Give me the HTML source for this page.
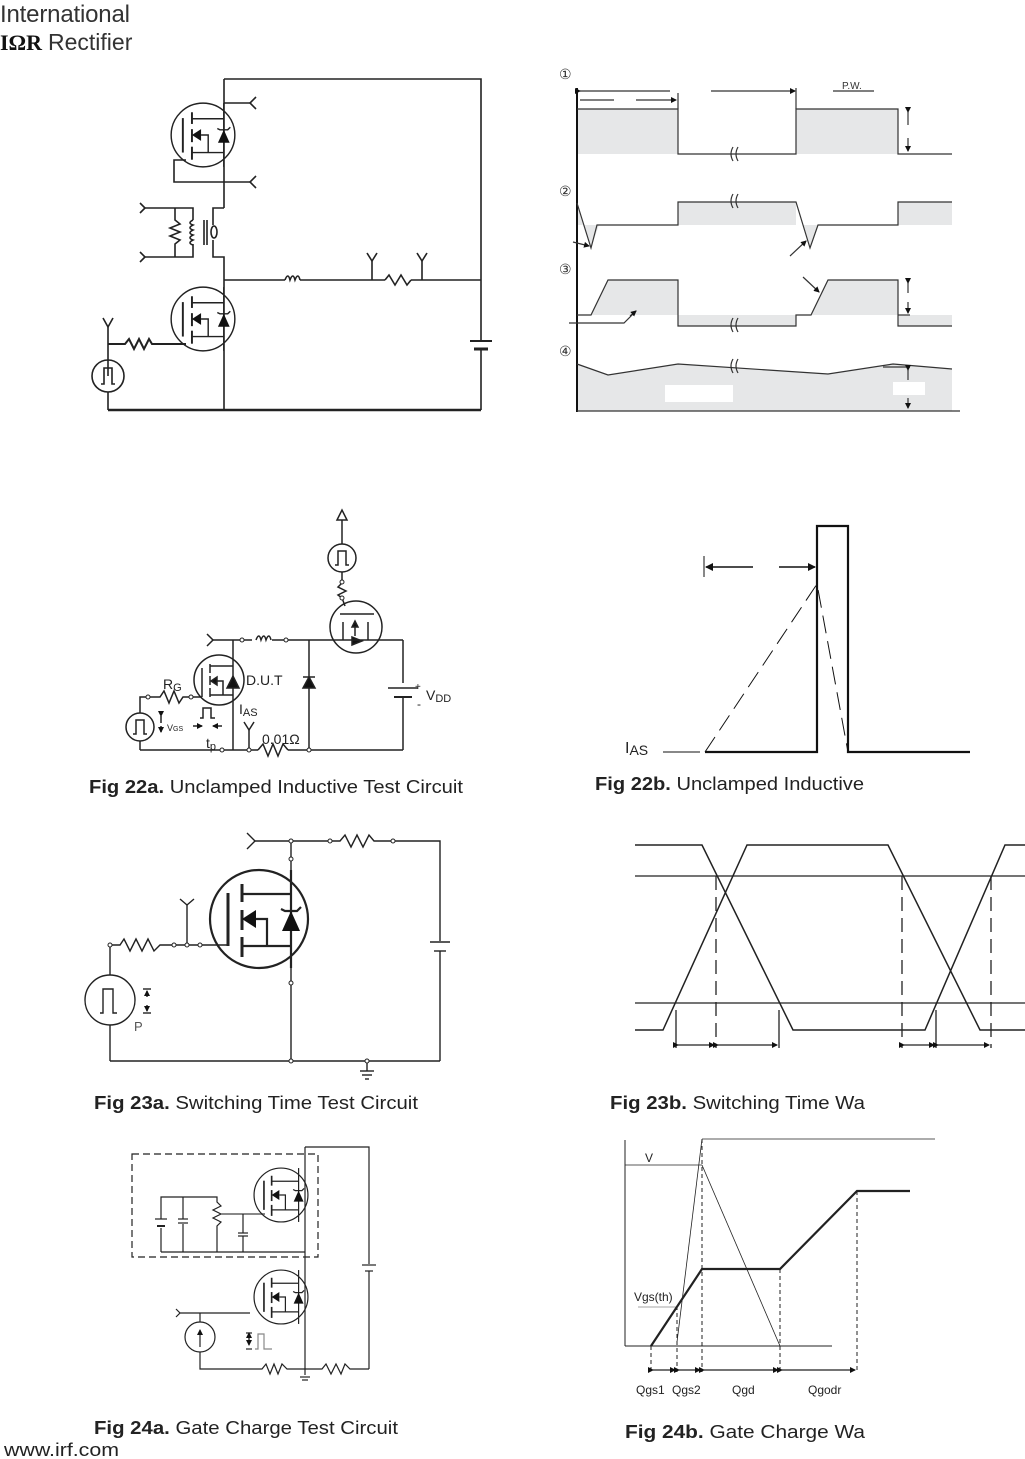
<!DOCTYPE html>
<html><head><meta charset="utf-8"><style>
html,body{margin:0;padding:0;background:#fff;}
svg{display:block;font-family:"Liberation Sans",sans-serif;}
</style></head><body>
<svg width="1025" height="1459" viewBox="0 0 1025 1459" xmlns="http://www.w3.org/2000/svg">
<defs>
<g id="mos">
 <circle cx="0" cy="0" r="49" fill="none" stroke="#222" stroke-width="2.2"/>
 <line x1="-31" y1="-26" x2="-31" y2="27" stroke="#222" stroke-width="3"/>
 <g stroke="#222" stroke-width="3">
  <line x1="-17" y1="-35" x2="-17" y2="-17"/><line x1="-17" y1="-9" x2="-17" y2="11"/><line x1="-17" y1="18" x2="-17" y2="38"/>
 </g>
 <g stroke="#222" stroke-width="2.2" fill="none">
  <line x1="-17" y1="-25" x2="32" y2="-25"/><line x1="-17" y1="27" x2="32" y2="27"/>
  <polyline points="-3,0 8,0 8,27"/>
  <line x1="32" y1="-49" x2="32" y2="49"/>
  <polyline points="22,-10 26,-8 38,-8 42,-12"/>
 </g>
 <polygon points="-17,0 -3,-9 -3,9" fill="#111"/>
 <polygon points="23,12 41,12 32,-8" fill="#111"/>
</g>
<marker id="ah" markerWidth="8" markerHeight="8" refX="7" refY="4" orient="auto" markerUnits="userSpaceOnUse"><polygon points="0,0 8,4 0,8" fill="#111"/></marker>
<marker id="as" markerWidth="6" markerHeight="6" refX="5" refY="3" orient="auto" markerUnits="userSpaceOnUse"><polygon points="0,0 6,3 0,6" fill="#111"/></marker>
</defs>

<!-- logo -->
<text x="0" y="22" font-size="24" fill="#333" font-weight="300" textLength="130">International</text>
<text x="0" y="50" font-size="22" fill="#111" font-weight="bold" font-family="Liberation Serif">IΩR</text>
<text x="48" y="50" font-size="23" fill="#333">Rectifier</text>

<g stroke="#222" stroke-width="1.6" fill="none">
<!-- Fig 21a -->
<polyline points="224,79 481,79 481,340"/><line x1="481" y1="350" x2="481" y2="410"/>
<line x1="470" y1="341" x2="492" y2="341" stroke-width="2"/><line x1="474" y1="349" x2="488" y2="349" stroke-width="3"/>
<line x1="108" y1="410" x2="481" y2="410" stroke-width="2.5"/>
<line x1="224" y1="79" x2="224" y2="208"/>
<polyline points="224,208 213,208 213,225"/><polyline points="213,240 213,257 224,257 224,410"/>
<ellipse cx="214" cy="232" rx="3" ry="6"/>
<line x1="204" y1="220" x2="204" y2="245"/><line x1="207" y1="220" x2="207" y2="245"/>
<polyline points="163,208 193,208 193,220"/><polyline points="193,244 193,257 163,257"/>
<path d="M193,220 q-6,3 0,5 q-6,3 0,5 q-6,3 0,5 q-6,3 0,5 q-6,3 0,5"/>
<polyline points="175,208 175,220 180,224 170,228 180,232 170,236 180,240 175,244 175,257"/>
<polyline points="140,203 145,208 140,213"/><line x1="145" y1="208" x2="163" y2="208"/>
<polyline points="140,252 145,257 140,262"/><line x1="145" y1="257" x2="163" y2="257"/>
<line x1="224" y1="103" x2="250" y2="103"/><polyline points="256,97 250,103 256,109"/>
<line x1="224" y1="182" x2="250" y2="182"/><polyline points="256,176 250,182 256,188"/>
<polyline points="186,160 174,160 174,182 224,182"/>
<line x1="224" y1="280" x2="285" y2="280"/>
<path d="M285,280 q3,-8 5,0 q3,-8 5,0 q3,-8 5,0"/>
<line x1="300" y1="280" x2="385" y2="280"/>
<polyline points="385,280 389,275 395,285 401,275 407,285 411,280"/>
<line x1="411" y1="280" x2="481" y2="280"/>
<line x1="372" y1="261" x2="372" y2="280"/><polyline points="367,253 372,261 377,253"/>
<line x1="422" y1="261" x2="422" y2="280"/><polyline points="417,253 422,261 427,253"/>
<polyline points="108,327 108,376"/><polyline points="103,318 108,327 113,318"/>
<polyline points="108,344 125,344 129,339 134,349 139,339 144,349 149,339 152,344 186,344" stroke-width="2"/>
<circle cx="108" cy="376" r="16"/><polyline points="101,384 104,384 104,368 112,368 112,384 115,384"/>
<line x1="108" y1="392" x2="108" y2="410"/>
</g>
<use href="#mos" transform="translate(203,135) scale(0.65)"/>
<use href="#mos" transform="translate(203,319) scale(0.65)"/>

<!-- Fig 21b -->
<g fill="#e6e7e8" stroke="none">
<rect x="577" y="109" width="101" height="45"/><rect x="796" y="109" width="102" height="45"/>
<polygon points="577,202 583,225 577,225"/><polygon points="583,225 599,225 591,248"/>
<rect x="678" y="202" width="118" height="23"/><polygon points="796,202 803,225 818,225 810,248"/><rect x="898" y="202" width="54" height="23"/>
<polygon points="591,315 608,280 678,280 678,315"/><polygon points="811,315 828,280 898,280 898,315"/>
<rect x="678" y="315" width="118" height="11"/><rect x="898" y="315" width="54" height="11"/>
<polygon points="577,364 608,375 678,364 828,374 893,364 952,369 952,411 577,411"/>
</g>
<rect x="665" y="385" width="68" height="17" fill="#fff"/><rect x="893" y="382" width="32" height="13" fill="#fff"/>
<g stroke="#333" stroke-width="1.2" fill="none">
<line x1="577" y1="88" x2="577" y2="412" stroke="#111" stroke-width="2"/>
<line x1="577" y1="411" x2="960" y2="411"/>
<polyline points="577,109 678,109 678,154 796,154 796,109 898,109 898,154 952,154"/>
<line x1="580" y1="91" x2="670" y2="91" marker-start="url(#as)"/>
<line x1="580" y1="100" x2="614" y2="100"/><line x1="636" y1="100" x2="676" y2="100" marker-end="url(#as)"/>
<line x1="678" y1="93" x2="678" y2="109"/>
<line x1="711" y1="91" x2="795" y2="91" marker-end="url(#as)"/><line x1="796" y1="88" x2="796" y2="109"/>
<line x1="833" y1="91" x2="874" y2="91"/>
<line x1="908" y1="112" x2="908" y2="125" marker-start="url(#as)"/><line x1="908" y1="138" x2="908" y2="151" marker-end="url(#as)"/>
<polyline points="577,203 591,248 597,225 678,225 678,202 796,202 810,248 818,225 898,225 898,202 952,202"/>
<polyline points="577,315 591,315 608,280 678,280 678,326 796,326 796,315 811,315 828,280 898,280 898,326 952,326"/>
<line x1="898" y1="315" x2="910" y2="315"/>
<line x1="908" y1="283" x2="908" y2="293" marker-start="url(#as)"/><line x1="908" y1="302" x2="908" y2="313" marker-end="url(#as)"/>
<polyline points="577,364 608,375 678,364 828,374 893,364 952,369"/><line x1="883" y1="367" x2="910" y2="367"/>
<line x1="908" y1="370" x2="908" y2="380" marker-start="url(#as)"/><line x1="908" y1="398" x2="908" y2="408" marker-end="url(#as)"/>
<line x1="573" y1="242" x2="589" y2="246" marker-end="url(#as)"/>
<line x1="790" y1="256" x2="806" y2="241" marker-end="url(#as)"/>
<line x1="803" y1="277" x2="819" y2="292" marker-end="url(#as)"/>
<polyline points="569,323 624,323 636,311" /><line x1="630" y1="316" x2="636" y2="311" marker-end="url(#as)"/>
<path d="M733,147 q-4,7 0,14 M738,147 q-4,7 0,14 M733,194 q-4,7 0,14 M738,194 q-4,7 0,14 M733,318 q-4,7 0,14 M738,318 q-4,7 0,14 M733,359 q-4,7 0,14 M738,359 q-4,7 0,14"/>
</g>
<g font-size="14" fill="#333"><text x="559" y="79">①</text><text x="559" y="196">②</text><text x="559" y="274">③</text><text x="559" y="356">④</text></g>
<text x="842" y="89" font-size="10" fill="#333">P.W.</text>

<!-- Fig 22a -->
<g stroke="#222" stroke-width="1.5" fill="none">
<polygon points="337,520 342,510 347,520"/><line x1="342" y1="520" x2="342" y2="544"/>
<circle cx="342" cy="558" r="14"/><polyline points="335,565 338,565 338,551 346,551 346,565 349,565"/>
<line x1="342" y1="572" x2="342" y2="582"/><polyline points="342,583 338,587 346,591 338,595 342,598"/>
<line x1="342" y1="598" x2="345" y2="606"/>
<circle cx="356" cy="627" r="26"/>
<line x1="340" y1="614" x2="374" y2="614"/><line x1="343" y1="622" x2="343" y2="640"/><line x1="368" y1="622" x2="368" y2="640"/>
<line x1="355" y1="624" x2="355" y2="636"/><polygon points="352,627 358,627 355,621" fill="#111"/>
<polygon points="352,637 352,645 362,641" fill="#111"/>
<line x1="233" y1="640" x2="252" y2="640"/><polyline points="207,634 213,640 207,646"/><line x1="213" y1="640" x2="233" y2="640"/>
<path d="M256,640 q3,-8 5,0 q3,-8 5,0 q3,-8 5,0"/>
<line x1="272" y1="640" x2="403" y2="640"/><line x1="403" y1="640" x2="403" y2="683"/><line x1="403" y1="697" x2="403" y2="750"/>
<line x1="388" y1="688" x2="418" y2="688"/><line x1="394" y1="697" x2="412" y2="697" stroke-width="2"/>
<line x1="309" y1="640" x2="309" y2="750"/><polygon points="303,688 315,688 309,677" fill="#111"/><line x1="303" y1="677" x2="315" y2="677"/>
<line x1="233" y1="640" x2="233" y2="750"/>
<line x1="140" y1="750" x2="258" y2="750"/><polyline points="258,750 263,744 268,756 273,744 278,756 283,744 288,750"/><line x1="288" y1="750" x2="403" y2="750"/>
<line x1="249" y1="730" x2="249" y2="750"/><polyline points="244,722 249,730 254,722"/>
<circle cx="219" cy="680" r="25"/>
<line x1="202" y1="668" x2="202" y2="697"/><line x1="210" y1="664" x2="210" y2="698" stroke-dasharray="9,3"/>
<polyline points="210,666 233,666"/><polyline points="210,695 233,695"/><polyline points="214,681 223,681 223,695"/>
<polygon points="211,681 217,677 217,685" fill="#111"/><polygon points="227,688 239,688 233,676" fill="#111"/>
<polyline points="140,713 140,697 160,697 164,691 169,703 174,691 179,703 183,697 202,697"/>
<circle cx="140" cy="727" r="14"/><polyline points="133,734 136,734 136,720 144,720 144,734 147,734"/>
<line x1="140" y1="741" x2="140" y2="750"/>
<line x1="161" y1="716" x2="161" y2="723" marker-start="url(#as)"/><line x1="161" y1="726" x2="161" y2="732" marker-end="url(#as)"/>
<polyline points="200,718 203,718 203,708 211,708 211,718 215,718"/>
<line x1="193" y1="726" x2="202" y2="726" marker-end="url(#as)"/><line x1="222" y1="726" x2="213" y2="726" marker-end="url(#as)"/>
</g>
<g fill="#fff" stroke="#222" stroke-width="1"><circle cx="148" cy="697" r="2"/><circle cx="191" cy="697" r="2"/><circle cx="242" cy="640" r="2"/><circle cx="286" cy="640" r="2"/><circle cx="342" cy="582" r="2"/><circle cx="342" cy="598" r="2"/><circle cx="222" cy="750" r="2"/><circle cx="249" cy="750" r="2"/><circle cx="309" cy="750" r="2"/></g>
<g fill="#222" font-size="14"><text x="163" y="689">R<tspan font-size="11" dy="2">G</tspan></text><text x="246" y="685">D.U.T</text>
<text x="426" y="700">V<tspan font-size="11" dy="2">DD</tspan></text><text x="415" y="690" font-size="10">+</text><text x="417" y="708" font-size="12">-</text>
<text x="239" y="714">I<tspan font-size="11" dy="2">AS</tspan></text><text x="262" y="744">0.01Ω</text>
<text x="167" y="731" font-size="9">V<tspan font-size="7">GS</tspan></text><text x="206" y="748">t<tspan font-size="11" dy="2">p</tspan></text></g>

<!-- Fig 22b -->
<g stroke="#111" fill="none">
<line x1="663" y1="752" x2="700" y2="752" stroke-width="1"/>
<polyline points="705,752 817,752 817,526 848,526 848,752 970,752" stroke-width="2.2"/>
<polyline points="705,752 817,584 848,752" stroke-width="1" stroke-dasharray="18,8"/>
<line x1="704" y1="556" x2="704" y2="577" stroke-width="1"/>
<line x1="753" y1="567" x2="706" y2="567" stroke-width="1.5" marker-end="url(#ah)"/>
<line x1="779" y1="567" x2="815" y2="567" stroke-width="1.5" marker-end="url(#ah)"/>
</g>
<text x="625" y="753" font-size="16" fill="#222">I<tspan font-size="14" dy="2">AS</tspan></text>

<!-- Fig 23a -->
<g stroke="#222" stroke-width="1.4" fill="none">
<polyline points="247,833 255,841 247,849"/><line x1="255" y1="841" x2="330" y2="841"/>
<polyline points="330,841 340,841 345,835 351,847 357,835 363,847 369,835 374,841 393,841 440,841 440,941"/><line x1="440" y1="951" x2="440" y2="1061"/>
<line x1="430" y1="942" x2="450" y2="942"/><line x1="434" y1="951" x2="446" y2="951"/>
<line x1="291" y1="841" x2="291" y2="1061"/>
<line x1="110" y1="1061" x2="440" y2="1061"/><line x1="367" y1="1061" x2="367" y2="1071"/>
<line x1="360" y1="1071" x2="374" y2="1071"/><line x1="362" y1="1075" x2="372" y2="1075"/><line x1="365" y1="1079" x2="369" y2="1079"/>
<polyline points="110,975 110,945 120,945 124,939 130,951 136,939 142,951 148,939 154,951 160,945 228,945"/>
<line x1="187" y1="905" x2="187" y2="945"/><polyline points="180,899 187,905 194,899"/>
<circle cx="110" cy="1000" r="25"/><polyline points="100,1013 103,1013 103,989 113,989 113,1013 117,1013"/>
<line x1="110" y1="1025" x2="110" y2="1061"/>
<line x1="143" y1="989" x2="151" y2="989"/><line x1="143" y1="1013" x2="151" y2="1013"/>
<line x1="147" y1="997" x2="147" y2="991" marker-end="url(#as)"/><line x1="147" y1="1005" x2="147" y2="1011" marker-end="url(#as)"/>
</g>
<use href="#mos" transform="translate(259,919)"/>
<g fill="#fff" stroke="#222" stroke-width="1"><circle cx="110" cy="945" r="2"/><circle cx="174" cy="945" r="2"/><circle cx="187" cy="945" r="2"/><circle cx="200" cy="945" r="2"/><circle cx="291" cy="841" r="2"/><circle cx="291" cy="859" r="2"/><circle cx="330" cy="841" r="2"/><circle cx="393" cy="841" r="2"/><circle cx="291" cy="983" r="2"/><circle cx="291" cy="1061" r="2"/><circle cx="367" cy="1061" r="2"/></g>
<text x="134" y="1031" font-size="13" fill="#555">P</text>

<!-- Fig 23b -->
<g stroke="#222" stroke-width="1.3" fill="none">
<line x1="635" y1="876" x2="1025" y2="876"/><line x1="635" y1="1003" x2="1025" y2="1003"/>
<polyline points="635,845 702,845 793,1030 925,1030 1005,845 1025,845" stroke-width="1.5"/>
<polyline points="635,1030 663,1030 747,845 888,845 980,1030 1025,1030" stroke-width="1.5"/>
<g stroke-dasharray="14,7"><line x1="716" y1="876" x2="716" y2="1048"/><line x1="902" y1="876" x2="902" y2="1048"/><line x1="991" y1="876" x2="991" y2="1048"/></g>
<line x1="676" y1="1010" x2="676" y2="1048"/><line x1="779" y1="1010" x2="779" y2="1048"/><line x1="936" y1="1010" x2="936" y2="1048"/>
<line x1="678" y1="1045" x2="714" y2="1045" marker-start="url(#as)" marker-end="url(#as)"/>
<line x1="718" y1="1045" x2="777" y2="1045" marker-start="url(#as)" marker-end="url(#as)"/>
<line x1="904" y1="1045" x2="934" y2="1045" marker-start="url(#as)" marker-end="url(#as)"/>
<line x1="938" y1="1045" x2="989" y2="1045" marker-start="url(#as)" marker-end="url(#as)"/>
</g>

<!-- Fig 24a -->
<g stroke="#222" stroke-width="1.2" fill="none">
<rect x="132" y="1154" width="186" height="103" stroke-dasharray="7,4"/>
<polyline points="305,1147 369,1147 369,1264"/><line x1="369" y1="1271" x2="369" y2="1369"/>
<line x1="362" y1="1265" x2="376" y2="1265"/><line x1="365" y1="1271" x2="373" y2="1271"/>
<line x1="305" y1="1147" x2="305" y2="1375"/>
<polyline points="161,1219 161,1197 217,1197 217,1199"/><line x1="161" y1="1228" x2="161" y2="1252"/>
<line x1="155" y1="1219" x2="167" y2="1219"/><line x1="157" y1="1226" x2="165" y2="1226" stroke-width="2"/>
<polyline points="183,1197 183,1219"/><line x1="183" y1="1224" x2="183" y2="1252"/><line x1="178" y1="1219" x2="188" y2="1219"/><line x1="178" y1="1223" x2="188" y2="1223"/>
<polyline points="217,1199 217,1202 221,1206 213,1210 221,1214 213,1218 221,1222 217,1226 217,1252"/>
<line x1="221" y1="1214" x2="265" y2="1214" stroke="#888" stroke-width="2"/>
<line x1="243" y1="1214" x2="243" y2="1233"/><line x1="243" y1="1236" x2="243" y2="1252"/><line x1="238" y1="1233" x2="248" y2="1233"/><line x1="238" y1="1236" x2="248" y2="1236"/>
<line x1="161" y1="1252" x2="305" y2="1252"/>
<polyline points="176,1309 180,1313 176,1317"/><line x1="180" y1="1313" x2="250" y2="1313"/>
<line x1="200" y1="1313" x2="200" y2="1322"/>
<circle cx="200" cy="1337" r="15"/><line x1="200" y1="1347" x2="200" y2="1330" marker-end="url(#as)"/>
<polyline points="200,1352 200,1369 262,1369 266,1364 270,1374 274,1364 278,1374 282,1364 287,1369 322,1369 326,1364 331,1374 336,1364 341,1374 345,1364 350,1369 369,1369"/>
<line x1="300" y1="1377" x2="310" y2="1377"/><line x1="302" y1="1380" x2="308" y2="1380"/>
<line x1="249" y1="1335" x2="249" y2="1345" marker-end="url(#as)"/><line x1="249" y1="1340" x2="249" y2="1333" marker-end="url(#as)"/>
<line x1="246" y1="1333" x2="252" y2="1333"/><line x1="246" y1="1349" x2="252" y2="1349"/>
<polyline points="255,1349 258,1349 258,1334 264,1334 264,1349 272,1349" stroke="#888"/>
</g>
<use href="#mos" transform="translate(281,1195) scale(0.55)"/>
<use href="#mos" transform="translate(281,1297) scale(0.55)"/>

<!-- Fig 24b -->
<g stroke="#222" fill="none">
<line x1="625" y1="1140" x2="625" y2="1346" stroke-width="1"/><line x1="625" y1="1346" x2="832" y2="1346" stroke-width="1"/>
<line x1="625" y1="1165" x2="702" y2="1165" stroke-width="0.8"/>
<line x1="702" y1="1139" x2="935" y2="1139" stroke-width="0.8"/>
<line x1="638" y1="1307" x2="676" y2="1307" stroke="#888" stroke-width="0.8"/>
<polyline points="651,1346 702,1269 780,1269 857,1191 910,1191" stroke-width="2.2"/>
<polyline points="677,1342 702,1139" stroke-width="0.8"/><polyline points="702,1165 780,1346" stroke-width="0.8"/>
<g stroke-dasharray="4,3" stroke-width="1"><line x1="651" y1="1346" x2="651" y2="1372"/><line x1="677" y1="1306" x2="677" y2="1372"/><line x1="702" y1="1139" x2="702" y2="1372"/><line x1="780" y1="1269" x2="780" y2="1372"/><line x1="857" y1="1191" x2="857" y2="1372"/></g>
<g stroke-width="1.2"><line x1="653" y1="1370" x2="675" y2="1370" marker-start="url(#as)" marker-end="url(#as)"/><line x1="679" y1="1370" x2="700" y2="1370" marker-start="url(#as)" marker-end="url(#as)"/><line x1="704" y1="1370" x2="778" y2="1370" marker-start="url(#as)" marker-end="url(#as)"/><line x1="782" y1="1370" x2="855" y2="1370" marker-start="url(#as)" marker-end="url(#as)"/></g>
</g>
<g font-size="12" fill="#222"><text x="645" y="1162">V</text><text x="634" y="1301">Vgs(th)</text><text x="636" y="1394">Qgs1</text><text x="672" y="1394">Qgs2</text><text x="732" y="1394">Qgd</text><text x="808" y="1394">Qgodr</text></g>

<!-- captions -->
<g font-size="18" fill="#222">
<text x="89" y="793" textLength="374" lengthAdjust="spacingAndGlyphs"><tspan font-weight="bold">Fig 22a.</tspan>  Unclamped Inductive Test Circuit</text>
<text x="595" y="790" textLength="269" lengthAdjust="spacingAndGlyphs"><tspan font-weight="bold">Fig 22b.</tspan>  Unclamped Inductive</text>
<text x="94" y="1109" textLength="324" lengthAdjust="spacingAndGlyphs"><tspan font-weight="bold">Fig 23a.</tspan>  Switching Time Test Circuit</text>
<text x="610" y="1109" textLength="255" lengthAdjust="spacingAndGlyphs"><tspan font-weight="bold">Fig 23b.</tspan>  Switching Time Wa</text>
<text x="94" y="1434" textLength="304" lengthAdjust="spacingAndGlyphs"><tspan font-weight="bold">Fig 24a.</tspan>  Gate Charge Test Circuit</text>
<text x="625" y="1438" textLength="240" lengthAdjust="spacingAndGlyphs"><tspan font-weight="bold">Fig 24b.</tspan>   Gate Charge Wa</text>
<text x="4" y="1456" textLength="115" lengthAdjust="spacingAndGlyphs">www.irf.com</text>
</g>
</svg>
</body></html>
